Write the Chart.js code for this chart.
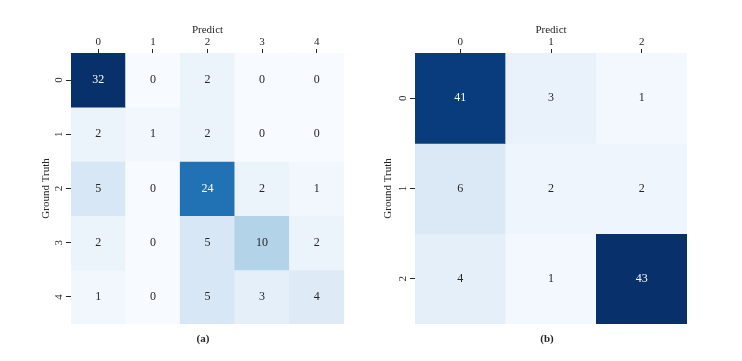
<!DOCTYPE html>
<html>
<head>
<meta charset="utf-8">
<script src="https://cdn.jsdelivr.net/npm/chart.js@4.4.1/dist/chart.umd.min.js"></script>
<style>
    body { margin: 0; background: #fff; }
    #wrap { position: relative; width: 742px; height: 361px; background: #fff; }
    .panel { position: absolute; top: 0; width: 371px; height: 361px; }
    .cap { position: absolute; top: 330px; width: 40px; margin-left: -20px; text-align: center;
           font: bold 11px "Liberation Serif", "Times New Roman", serif; color: #262626; line-height: 16px; }
</style>
</head>
<body>
<div id="wrap">
    <div class="panel" style="left:0"><canvas id="cmA" width="371" height="361"></canvas></div>
    <div class="panel" style="left:371px"><canvas id="cmB" width="371" height="361"></canvas></div>
    <div class="cap" style="left:203px">(a)</div>
    <div class="cap" style="left:547px">(b)</div>
</div>
<script>
const labelsA = ['0', '1', '2', '3', '4'];
const matrixA = [
    [32, 0, 2, 0, 0],
    [2, 1, 2, 0, 0],
    [5, 0, 24, 2, 1],
    [2, 0, 5, 10, 2],
    [1, 0, 5, 3, 4]
];

const labelsB = ['0', '1', '2'];
const matrixB = [
    [41, 3, 1],
    [6, 2, 2],
    [4, 1, 43]
];

const xTitle = 'Predict';
const yTitle = 'Ground Truth';

// matplotlib "Blues"
const BLUES = [
    [247, 251, 255], [222, 235, 247], [198, 219, 239], [158, 202, 225],
    [107, 174, 214], [66, 146, 198], [33, 113, 181], [8, 81, 156], [8, 48, 107]
];

function blues(t) {
    t = Math.max(0, Math.min(1, t));
    const pos = t * (BLUES.length - 1);
    const i = Math.min(Math.floor(pos), BLUES.length - 2);
    const f = pos - i;
    const c = BLUES[i].map((v, k) => Math.round(v + (BLUES[i + 1][k] - v) * f));
    return `rgb(${c[0]}, ${c[1]}, ${c[2]})`;
}

function luminance(rgbStr) {
    const [r, g, b] = rgbStr.match(/\d+/g).map(Number).map(v => {
        v /= 255;
        return v <= 0.03928 ? v / 12.92 : Math.pow((v + 0.055) / 1.055, 2.4);
    });
    return 0.2126 * r + 0.7152 * g + 0.0722 * b;
}

const SERIF = '"Liberation Serif", "Times New Roman", serif';
const INK = '#262626';

const cellLabels = {
    id: 'cellLabels',
    afterDatasetsDraw(chart) {
        const ctx = chart.ctx;
        ctx.save();
        ctx.font = `12px ${SERIF}`;
        ctx.textAlign = 'center';
        ctx.textBaseline = 'middle';
        chart.data.datasets.forEach((ds, r) => {
            chart.getDatasetMeta(r).data.forEach((bar, c) => {
                const fill = ds.backgroundColor[c];
                ctx.fillStyle = luminance(fill) < 0.408 ? '#ffffff' : INK;
                ctx.fillText(String(ds.values[c]), bar.x, (bar.y + bar.base) / 2);
            });
        });
        ctx.restore();
    }
};

function drawMatrix(canvasId, labels, matrix, box) {
    const vmax = Math.max(...matrix.flat());
    const datasets = matrix.map((row, r) => ({
        values: row,
        data: row.map(() => [r - 0.5, r + 0.5]),
        backgroundColor: row.map(v => blues(v / vmax)),
        borderWidth: 0,
        borderSkipped: false,
        grouped: false,
        barPercentage: 1,
        categoryPercentage: 1
    }));

    new Chart(document.getElementById(canvasId), {
        type: 'bar',
        data: { labels, datasets },
        plugins: [cellLabels],
        options: {
            responsive: false,
            animation: false,
            devicePixelRatio: 1,
            layout: { padding: { left: 0, top: 0, right: box.padRight, bottom: box.padBottom } },
            plugins: { legend: { display: false }, tooltip: { enabled: false } },
            scales: {
                x: {
                    type: 'category',
                    position: 'top',
                    offset: true,
                    grid: { offset: false, drawOnChartArea: false, drawTicks: true, tickLength: 4, color: INK, lineWidth: 1 },
                    border: { display: false },
                    ticks: { font: { family: SERIF, size: 11 }, color: INK, padding: 0, maxRotation: 0 },
                    title: { display: true, text: xTitle, font: { family: SERIF, size: 11 }, color: INK, padding: { top: 24, bottom: 0 } },
                    afterFit: s => { s.height = box.top; }
                },
                y: {
                    type: 'linear',
                    min: -0.5,
                    max: labels.length - 0.5,
                    reverse: true,
                    afterBuildTicks: s => { s.ticks = labels.map((_, i) => ({ value: i })); },
                    grid: { drawOnChartArea: false, drawTicks: true, tickLength: 5, color: INK, lineWidth: 1 },
                    border: { display: false },
                    ticks: {
                        callback: v => labels[v],
                        font: { family: SERIF, size: 11 },
                        color: INK,
                        minRotation: 90,
                        maxRotation: 90,
                        crossAlign: 'center',
                        padding: box.tickPad
                    },
                    title: { display: true, text: yTitle, font: { family: SERIF, size: 11 }, color: INK, padding: { top: box.titlePad, bottom: 0 } },
                    afterFit: s => { s.width = box.left; }
                }
            }
        }
    });
}

drawMatrix('cmA', labelsA, matrixA, { left: 71, top: 53, padRight: 27, padBottom: 37, tickPad: 4, titlePad: 40 });
drawMatrix('cmB', labelsB, matrixB, { left: 44, top: 53, padRight: 55, padBottom: 37, tickPad: 4, titlePad: 11 });
</script>
</body>
</html>
